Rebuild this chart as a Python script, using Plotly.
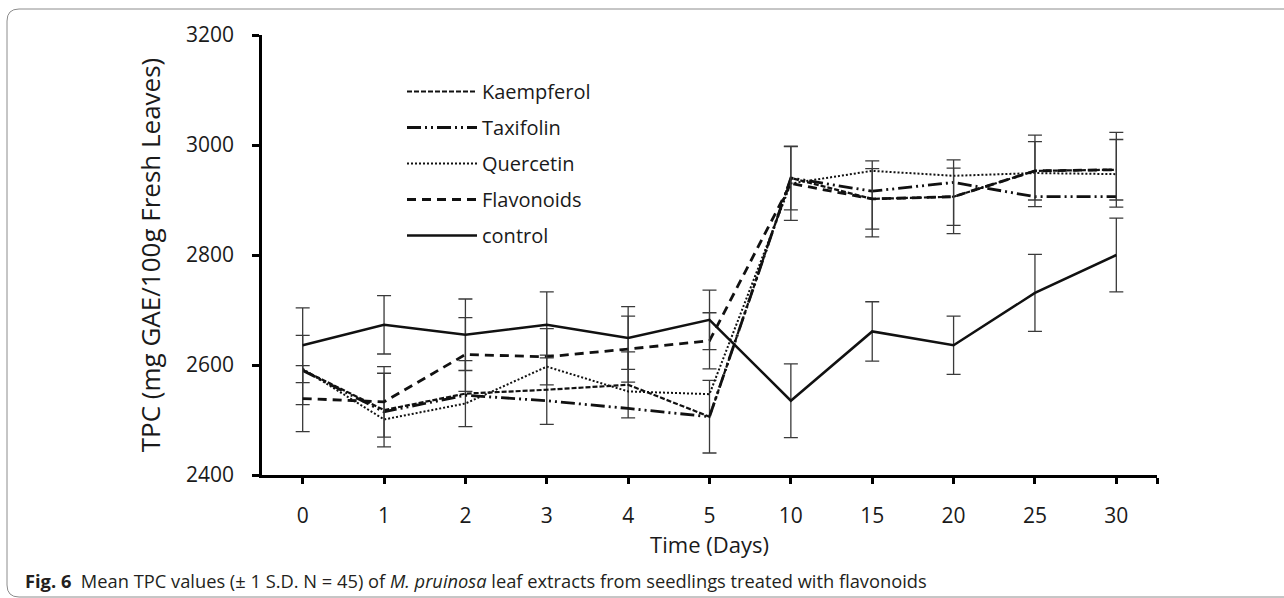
import plotly.graph_objects as go

# ---------------- data ----------------
days = ["0", "1", "2", "3", "4", "5", "10", "15", "20", "25", "30"]

kaempferol = [2591, 2518, 2548, 2555, 2564, 2506, 2940, 2902, 2906, 2953, 2955]
taxifolin = [2590, 2515, 2545, 2535, 2521, 2506, 2940, 2916, 2932, 2906, 2906]
quercetin = [2593, 2501, 2530, 2597, 2552, 2547, 2930, 2953, 2944, 2949, 2947]
flavonoids = [2539, 2533, 2619, 2615, 2629, 2644, 2930, 2902, 2906, 2953, 2955]
control = [2636, 2673, 2655, 2673, 2649, 2682, 2535, 2661, 2636, 2731, 2800]

kaempferol_sd = [63, 67, 60, 63, 60, 66, 58, 69, 67, 65, 68]
flavonoids_sd = [60, 64, 67, 51, 60, 51, 67, 55, 52, 53, 55]
control_sd = [68, 53, 65, 60, 57, 54, 67, 54, 53, 70, 67]

y_ticks = [2400, 2600, 2800, 3000, 3200]

FONT = "Open Sans"
xi = list(range(len(days)))

fig = go.Figure()

def err(sd):
    return dict(type="data", array=sd, visible=True, color="#3a3a3a",
                thickness=1.3, width=7)

series = [
    ("Kaempferol", kaempferol, dict(color="#111111", width=2.2, dash="5px,2px"), kaempferol_sd),
    ("Taxifolin", taxifolin, dict(color="#111111", width=2.8, dash="14px,4px,2px,4px,2px,4px"), None),
    ("Quercetin", quercetin, dict(color="#111111", width=2, dash="2px,2px"), None),
    ("Flavonoids", flavonoids, dict(color="#111111", width=2.8, dash="9px,6px"), flavonoids_sd),
    ("control", control, dict(color="#111111", width=2.5), control_sd),
]

for i, (name, vals, line, sd) in enumerate(series):
    kw = dict(x=xi, y=vals, mode="lines", name=name, line=line,
              legendgroup=name)
    if sd is not None:
        kw["error_y"] = err(sd)
    fig.add_trace(go.Scatter(**kw))

# plot-area pixel geometry helpers
L, R, T, B = 262, 1157, 35, 475
def px(x):
    return (x - L) / (R - L)
def py(y):
    return (B - y) / (B - T)

# rounded border frame
x0, y0, x1, y1, r = 7, 9, 1300, 597, 12
path = (f"M {px(x0)},{py(y0 + r)} Q {px(x0)},{py(y0)} {px(x0 + r)},{py(y0)} "
        f"L {px(x1)},{py(y0)} L {px(x1)},{py(y1)} L {px(x0 + r)},{py(y1)} "
        f"Q {px(x0)},{py(y1)} {px(x0)},{py(y1 - r)} Z")
fig.add_shape(type="path", path=path, xref="paper", yref="paper",
              line=dict(color="#8c8c8c", width=1), fillcolor="rgba(0,0,0,0)", layer="below")

fig.add_annotation(
    x=px(23), y=py(580), xref="paper", yref="paper", xanchor="left", yanchor="middle",
    text="<b>Fig. 6</b>  Mean TPC values (± 1 S.D. N = 45) of <i>M. pruinosa</i> leaf extracts "
         "from seedlings treated with flavonoids",
    showarrow=False, font=dict(family=FONT, size=18.3, color="#231f20"))

fig.update_layout(
    width=1284, height=598,
    margin=dict(l=L, r=1284 - R, t=T, b=598 - B, autoexpand=False),
    paper_bgcolor="white", plot_bgcolor="white",
    font=dict(family=FONT, color="#1a1a1a"),
    showlegend=True,
    legend=dict(x=px(402), y=py(72), xanchor="left", yanchor="top",
                bgcolor="rgba(0,0,0,0)", font=dict(family=FONT, size=20, color="#1a1a1a"),
                itemwidth=70, tracegroupgap=7, traceorder="grouped"),
    xaxis=dict(
        range=[-0.5, len(days) - 0.5],
        tickmode="array", tickvals=xi + [len(days) - 0.5], ticktext=days + [""],
        showline=True, linecolor="black", linewidth=2.5,
        ticks="outside", ticklen=6, tickwidth=2.5, tickcolor="black",
        tickfont=dict(family=FONT, size=21, color="#1a1a1a"),
        ticklabelstandoff=14,
        showgrid=False, zeroline=False,
        title=dict(text="Time (Days)", font=dict(family=FONT, size=22, color="#1a1a1a"), standoff=1),
    ),
    yaxis=dict(
        range=[2400, 3200], tickmode="array", tickvals=y_ticks,
        showline=True, linecolor="black", linewidth=2.5,
        ticks="outside", ticklen=7, tickwidth=2.5, tickcolor="black",
        tickfont=dict(family=FONT, size=21, color="#1a1a1a"),
        ticklabelstandoff=14,
        showgrid=False, zeroline=False,
        title=dict(text="TPC (mg GAE/100g Fresh Leaves)",
                   font=dict(family=FONT, size=26, color="#1a1a1a"), standoff=18),
    ),
)

fig.write_html("out.html")
